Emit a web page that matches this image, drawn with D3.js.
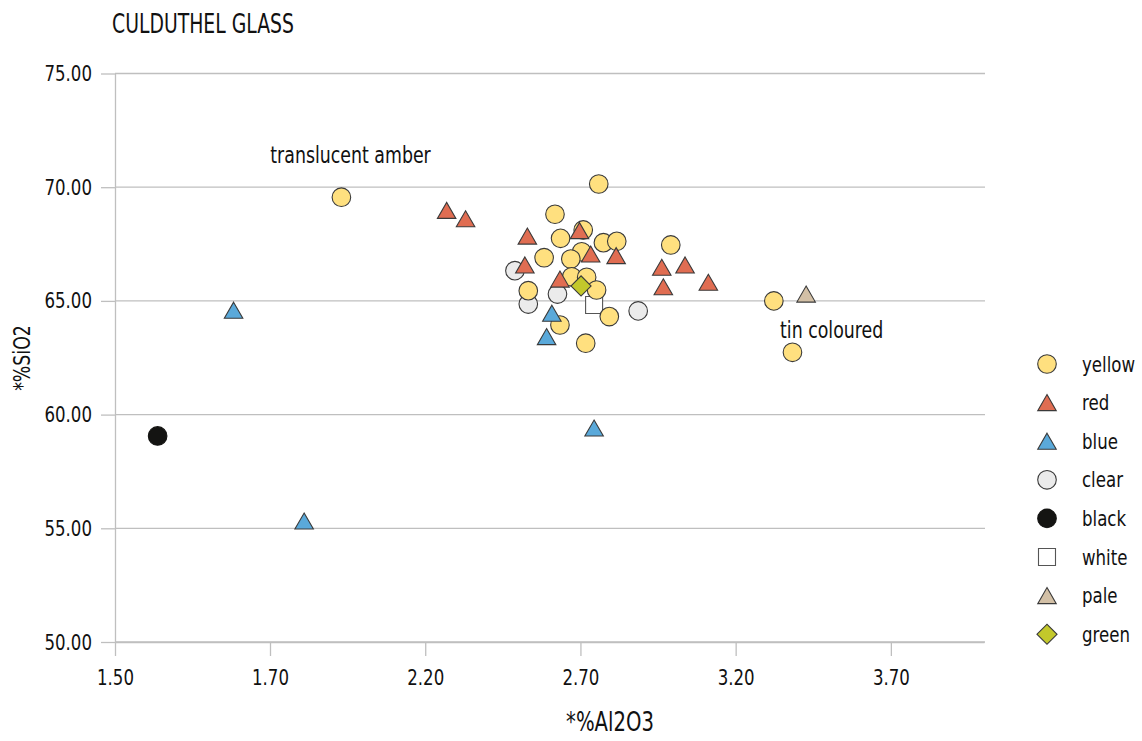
<!DOCTYPE html>
<html>
<head>
<meta charset="utf-8">
<script src="https://cdn.jsdelivr.net/npm/d3@7"></script>
<style>
  html, body { margin: 0; padding: 0; background: #fff; }
  svg text { font-family: "DejaVu Sans Condensed", "DejaVu Sans", sans-serif; font-stretch: condensed; fill: #111; }
</style>
</head>
<body>
<svg id="chart" width="1142" height="741"></svg>
<script>
// ---- data (Al2O3 %, SiO2 %) ----
const yellow = [[1.930,69.56],[2.759,70.14],[2.618,68.81],[2.709,68.12],[2.636,67.75],[2.774,67.56],[2.817,67.62],[2.991,67.46],[2.583,66.90],[2.704,67.16],[2.669,66.84],[2.532,65.45],[2.672,66.06],[2.720,66.04],[2.752,65.48],[2.793,64.31],[2.634,63.94],[2.717,63.14],[3.323,65.00],[3.383,62.74]];
const red = [[2.269,68.98],[2.330,68.61],[2.529,67.85],[2.697,68.09],[2.733,67.06],[2.815,66.99],[2.521,66.58],[2.634,65.96],[2.962,66.48],[3.037,66.58],[2.967,65.62],[3.112,65.82]];
const blue = [[1.653,64.59],[1.810,55.32],[2.744,59.41],[2.608,64.46],[2.591,63.43]];
const clear = [[2.489,66.33],[2.626,65.30],[2.532,64.86],[2.886,64.56]];
const black = [[1.555,59.06]];
const white = [[2.744,64.82]];
const pale = [[3.427,65.30]];
const green = [[2.702,65.66]];

const seriesNames = ["yellow","red","blue","clear","black","white","pale","green"];
const seriesData = {yellow, red, blue, clear, black, white, pale, green};
const drawOrder = ["clear","white","yellow","red","blue","black","pale","green"];

const xTicks = [1.5, 1.7, 2.2, 2.7, 3.2, 3.7];
const yTicks = [50, 55, 60, 65, 70, 75];

const annotations = [
  {text: "translucent amber", x: 1.701, y: 71.06},
  {text: "tin coloured", x: 3.343, y: 63.37}
];

const titleText = "CULDUTHEL GLASS";
const xTitle = "*%Al2O3";
const yTitle = "*%SiO2";

// ---- styles ----
const styles = {
  yellow: {shape: "circle",   fill: "#FFE07F", stroke: "#3a3a3a"},
  red:    {shape: "triangle", fill: "#E06D52", stroke: "#3a3a3a"},
  blue:   {shape: "triangle", fill: "#5AA9DA", stroke: "#3a3a3a"},
  clear:  {shape: "circle",   fill: "#EBEBEB", stroke: "#3a3a3a"},
  black:  {shape: "circle",   fill: "#141412", stroke: "#141412"},
  white:  {shape: "square",   fill: "#FFFFFF", stroke: "#555555"},
  pale:   {shape: "triangle", fill: "#D3C0A6", stroke: "#3a3a3a"},
  green:  {shape: "diamond",  fill: "#C3C82B", stroke: "#3a3a3a"}
};

const svg = d3.select("#chart");
const gridColor = "#BFBFBF";

const x = d3.scaleLinear().domain([1.5, 1.7, 4.0]).range([115, 270, 984]);
const y = d3.scaleLinear().domain([50, 75]).range([642, 73.5]);
const plotLeft = 115, plotRight = 985;

// gridlines
svg.append("g").selectAll("line").data(yTicks).join("line")
  .attr("x1", plotLeft).attr("x2", plotRight)
  .attr("y1", d => y(d)).attr("y2", d => y(d))
  .attr("stroke", gridColor).attr("stroke-width", 1.3);

// y axis
const yAxis = svg.append("g").attr("transform", `translate(${plotLeft},0)`)
  .call(d3.axisLeft(y).tickValues(yTicks).tickSize(14).tickSizeOuter(0).tickPadding(9).tickFormat(d3.format(".2f")));
yAxis.select(".domain").attr("stroke", gridColor).attr("stroke-width", 1.3);
yAxis.selectAll(".tick line").attr("stroke", gridColor).attr("stroke-width", 1.3);
yAxis.selectAll(".tick text").attr("font-size", 22);

// x axis
const xAxis = svg.append("g").attr("transform", `translate(0,${y(50)})`)
  .call(d3.axisBottom(x).tickValues(xTicks).tickSize(14).tickSizeOuter(0).tickPadding(13).tickFormat(d3.format(".2f")));
xAxis.select(".domain").attr("stroke", gridColor).attr("stroke-width", 1.3);
xAxis.selectAll(".tick line").attr("stroke", gridColor).attr("stroke-width", 1.3);
xAxis.selectAll(".tick text").attr("font-size", 22);
svg.selectAll(".tick text").attr("fill", "#111").attr("font-family", null);

// symbol helpers
const circleSym = d3.symbol().type(d3.symbolCircle).size(Math.PI * 9.3 * 9.3);
const triSide = 18.5;
const triSym = d3.symbol().type(d3.symbolTriangle).size(Math.sqrt(3) / 4 * triSide * triSide);
const triOffset = (triSide * Math.sqrt(3) / 2) / 6;
const squareSym = d3.symbol().type(d3.symbolSquare).size(17 * 17);
const diamondSym = d3.symbol().type(d3.symbolSquare).size(14.2 * 14.2);

function drawSymbol(sel, shape, cx, cy) {
  if (shape === "circle") return sel.append("path").attr("d", circleSym()).attr("transform", `translate(${cx},${cy})`);
  if (shape === "triangle") return sel.append("path").attr("d", triSym()).attr("transform", `translate(${cx},${cy + triOffset})`);
  if (shape === "square") return sel.append("path").attr("d", squareSym()).attr("transform", `translate(${cx},${cy})`);
  if (shape === "diamond") return sel.append("path").attr("d", diamondSym()).attr("transform", `translate(${cx},${cy}) rotate(45)`);
}

// points
const pts = svg.append("g");
drawOrder.forEach(name => {
  const st = styles[name];
  seriesData[name].forEach(([vx, vy]) => {
    drawSymbol(pts, st.shape, x(vx), y(vy))
      .attr("fill", st.fill).attr("stroke", st.stroke).attr("stroke-width", 1.1);
  });
});

// annotations
svg.append("g").selectAll("text").data(annotations).join("text")
  .attr("x", d => x(d.x)).attr("y", d => y(d.y))
  .attr("font-size", 23).text(d => d.text);

// title
svg.append("text").attr("class", "title").attr("x", 112).attr("y", 33).attr("font-size", 27).text(titleText);

// axis titles
svg.append("text").attr("x", 610).attr("y", 731).attr("text-anchor", "middle").attr("font-size", 26).text(xTitle);
svg.append("text").attr("class", "rot").attr("transform", "translate(30,358) rotate(-90)").attr("text-anchor", "middle").attr("font-size", 23).text(yTitle);

// legend
const legend = svg.append("g");
seriesNames.forEach((name, i) => {
  const cy = 364 + i * 38.6;
  const st = styles[name];
  drawSymbol(legend, st.shape, 1047, cy).attr("fill", st.fill).attr("stroke", st.stroke).attr("stroke-width", 1.1);
  legend.append("text").attr("x", 1082).attr("y", cy).attr("dy", "0.35em").attr("font-size", 22).text(name);
});

// condense all text horizontally to mimic the narrow typeface of the original
svg.selectAll("text").each(function() {
  const el = d3.select(this);
  const f = el.classed("title") ? 0.775 : 0.84;
  if (el.classed("rot")) {
    el.attr("transform", el.attr("transform") + ` scale(${f},1)`);
  } else {
    const ax = +(el.attr("x") || 0);
    el.attr("transform", `translate(${ax},0) scale(${f},1) translate(${-ax},0)`);
  }
});
</script>
</body>
</html>
